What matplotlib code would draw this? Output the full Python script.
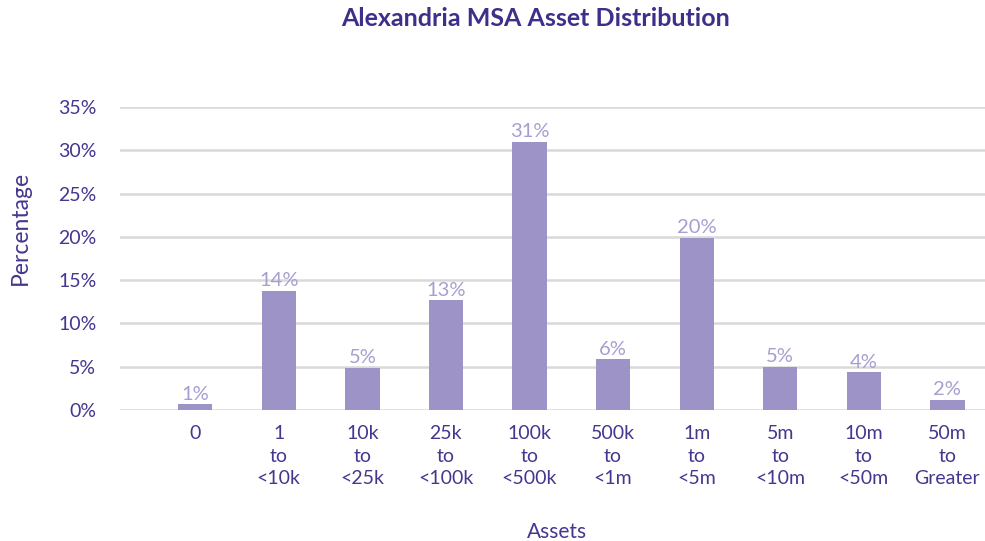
import matplotlib
matplotlib.use("Agg")
import matplotlib.pyplot as plt
import numpy as np

categories = ["0", "1\nto\n<10k", "10k\nto\n<25k", "25k\nto\n<100k", "100k\nto\n<500k",
              "500k\nto\n<1m", "1m\nto\n<5m", "5m\nto\n<10m", "10m\nto\n<50m", "50m\nto\nGreater"]
values = [0.7, 13.8, 4.9, 12.7, 31.0, 5.9, 19.9, 5.0, 4.4, 1.2]
value_labels = ["1%", "14%", "5%", "13%", "31%", "6%", "20%", "5%", "4%", "2%"]
y_ticks = [0, 5, 10, 15, 20, 25, 30, 35]

plt.rcParams['font.family'] = ['Lato', 'DejaVu Sans']

dark = "#46368F"
bar_c = "#9D93C6"
lab_c = "#A79ED0"
grid_c = "#D9D9D9"

fig = plt.figure(figsize=(9.85, 5.41), dpi=100)
ax = fig.add_axes([120/985, 131/541, 865/985, 303/541])

x = np.arange(len(categories))
ax.bar(x, values, width=0.41, color=bar_c, zorder=3)
for xi, v, t in zip(x, values, value_labels):
    ax.annotate(t, (xi, v), xytext=(0, 1), textcoords="offset points",
                ha="center", va="bottom", color=lab_c, fontsize=14.5)

ax.set_ylim(0, 35)
ax.set_xlim(-0.9, 9.45)
ax.set_yticks(y_ticks)
ax.set_yticklabels([f"{t}%" for t in y_ticks])
ax.set_xticks(x)
ax.set_xticklabels(categories, linespacing=1.4)
ax.grid(axis="y", color=grid_c, linewidth=1.8, zorder=0)
for s in ax.spines.values():
    s.set_visible(False)
ax.tick_params(axis="both", length=0, colors=dark, labelsize=14)
ax.tick_params(axis="y", pad=17)
ax.tick_params(axis="x", pad=11)

fig.text(536/985, 1 - 19/541, "Alexandria MSA Asset Distribution", ha="center", va="center",
         fontsize=18, fontweight="bold", color="#3E2F8A")
fig.text(20/985, 1 - 228/541, "Percentage", rotation=90, ha="center", va="center",
         fontsize=16.5, color=dark)
fig.text(557/985, 1 - 538/541, "Assets", ha="center", va="baseline", fontsize=15, color=dark)

fig.savefig("out.png", dpi=100)
